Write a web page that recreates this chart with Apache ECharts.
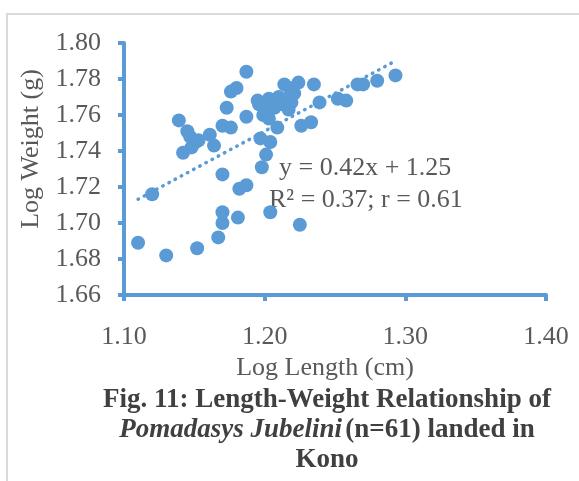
<!DOCTYPE html>
<html>
<head>
<meta charset="utf-8">
<script src="https://cdn.jsdelivr.net/npm/echarts@6/dist/echarts.min.js"></script>
<style>
  html, body { margin: 0; padding: 0; background: #fff; overflow: hidden; }
  #chart { width: 579px; height: 481px; }
</style>
</head>
<body>
<div id="chart"></div>
<script>
// Log length (cm) of each fish
const logLength = [
  1.110, 1.130, 1.152, 1.167, 1.170, 1.170, 1.181, 1.170, 1.182, 1.187,
  1.120, 1.198, 1.201, 1.204, 1.197, 1.204, 1.225, 1.139, 1.145, 1.147,
  1.142, 1.148, 1.151, 1.153, 1.161, 1.164, 1.170, 1.176, 1.173, 1.176,
  1.180, 1.187, 1.187, 1.195, 1.203, 1.210, 1.216, 1.201, 1.207, 1.217,
  1.203, 1.209, 1.226, 1.233, 1.214, 1.224, 1.235, 1.239, 1.252, 1.258,
  1.266, 1.270, 1.280, 1.293, 1.221, 1.219, 1.213, 1.199, 1.196, 1.206,
  1.218
];
// Log weight (g) of each fish
const logWeight = [
  1.689, 1.682, 1.686, 1.692, 1.700, 1.706, 1.703, 1.727, 1.719, 1.721,
  1.716, 1.731, 1.738, 1.745, 1.747, 1.706, 1.699, 1.757, 1.751, 1.748,
  1.739, 1.742, 1.745, 1.746, 1.749, 1.743, 1.754, 1.753, 1.764, 1.773,
  1.775, 1.784, 1.759, 1.768, 1.769, 1.770, 1.769, 1.763, 1.764, 1.763,
  1.758, 1.753, 1.754, 1.756, 1.777, 1.778, 1.777, 1.767, 1.769, 1.768,
  1.777, 1.777, 1.779, 1.782, 1.772, 1.767, 1.766, 1.760, 1.766, 1.767,
  1.775
];
// Linear fit y = slope * x + intercept (printed to two decimals),
// drawn over the sampled length range
const slope = 0.42;
const intercept = 1.247;
const rSquared = 0.37;
const rValue = 0.61;
const fitRange = [1.11, 1.29];

const xTicks = { min: 1.10, max: 1.40, step: 0.10 };
const yTicks = { min: 1.66, max: 1.80, step: 0.02 };

const blue = '#5b9bd5';
const grey = '#595959';
const dark = '#404040';
const serif = '"Liberation Serif", "Times New Roman", serif';
const fs = 26;
const capFs = 27;

const points = logLength.map((x, i) => [x, logWeight[i]]);
const fitLine = fitRange.map(x => [x, slope * x + intercept]);
const eqText = 'y = ' + slope.toFixed(2) + 'x + ' + intercept.toFixed(2);
const statText = 'R² = ' + rSquared.toFixed(2) + '; r = ' + rValue.toFixed(2);

const chart = echarts.init(document.getElementById('chart'));
chart.setOption({
  animation: false,
  backgroundColor: '#fff',
  grid: { left: 124, right: 33, top: 43, bottom: 186, containLabel: false },
  xAxis: {
    type: 'value',
    min: xTicks.min, max: xTicks.max, interval: xTicks.step,
    name: 'Log Length (cm)',
    nameLocation: 'middle',
    nameGap: 57,
    nameTextStyle: { fontFamily: serif, fontSize: fs, color: grey, padding: [0, 20, 0, 0] },
    axisLine: { show: true, lineStyle: { color: blue, width: 4 } },
    axisTick: { show: true, length: 6, lineStyle: { color: blue, width: 4 } },
    axisLabel: {
      margin: 29, fontFamily: serif, fontSize: fs, color: grey,
      formatter: v => v.toFixed(2)
    },
    splitLine: { show: false }
  },
  yAxis: {
    type: 'value',
    min: yTicks.min, max: yTicks.max, interval: yTicks.step,
    name: 'Log Weight (g)',
    nameLocation: 'middle',
    nameGap: 76,
    nameTextStyle: { fontFamily: serif, fontSize: fs, color: grey, padding: [0, 0, 0, 40] },
    axisLine: { show: true, lineStyle: { color: blue, width: 4 } },
    axisTick: { show: true, length: 6, lineStyle: { color: blue, width: 4 } },
    axisLabel: {
      margin: 23, fontFamily: serif, fontSize: fs, color: grey,
      formatter: v => v.toFixed(2)
    },
    splitLine: { show: false }
  },
  series: [
    {
      type: 'line',
      data: fitLine,
      symbol: 'none',
      z: 1,
      lineStyle: { color: blue, width: 3.5, type: [0.5, 6.5], cap: 'round' }
    },
    {
      type: 'scatter',
      data: points,
      symbol: 'circle',
      symbolSize: 14,
      z: 2,
      itemStyle: { color: blue, opacity: 1 }
    }
  ],
  graphic: [
    {
      type: 'rect', silent: true, z: -1,
      shape: { x: 7, y: 14, width: 600, height: 500 },
      style: { fill: 'none', stroke: '#d9d9d9', lineWidth: 2 }
    },
    {
      type: 'text', x: 279, y: 155,
      style: { text: eqText, font: fs + 'px ' + serif, fill: grey }
    },
    {
      type: 'text', x: 269, y: 187,
      style: { text: statText, font: fs + 'px ' + serif, fill: grey }
    },
    {
      type: 'text', x: 327, y: 386.5,
      style: {
        text: 'Fig. 11: Length-Weight Relationship of',
        font: 'bold ' + capFs + 'px ' + serif, fill: dark, align: 'center'
      }
    },
    {
      type: 'text', x: 327, y: 416.5,
      style: {
        text: '{i|Pomadasys Jubelini} {b|(n=61) landed in}',
        align: 'center',
        rich: {
          i: { fontFamily: serif, fontSize: capFs, fontWeight: 'bold', fontStyle: 'italic', fill: dark },
          b: { fontFamily: serif, fontSize: capFs, fontWeight: 'bold', fill: dark }
        }
      }
    },
    {
      type: 'text', x: 327, y: 446.5,
      style: { text: 'Kono', font: 'bold ' + capFs + 'px ' + serif, fill: dark, align: 'center' }
    }
  ]
});
</script>
</body>
</html>
